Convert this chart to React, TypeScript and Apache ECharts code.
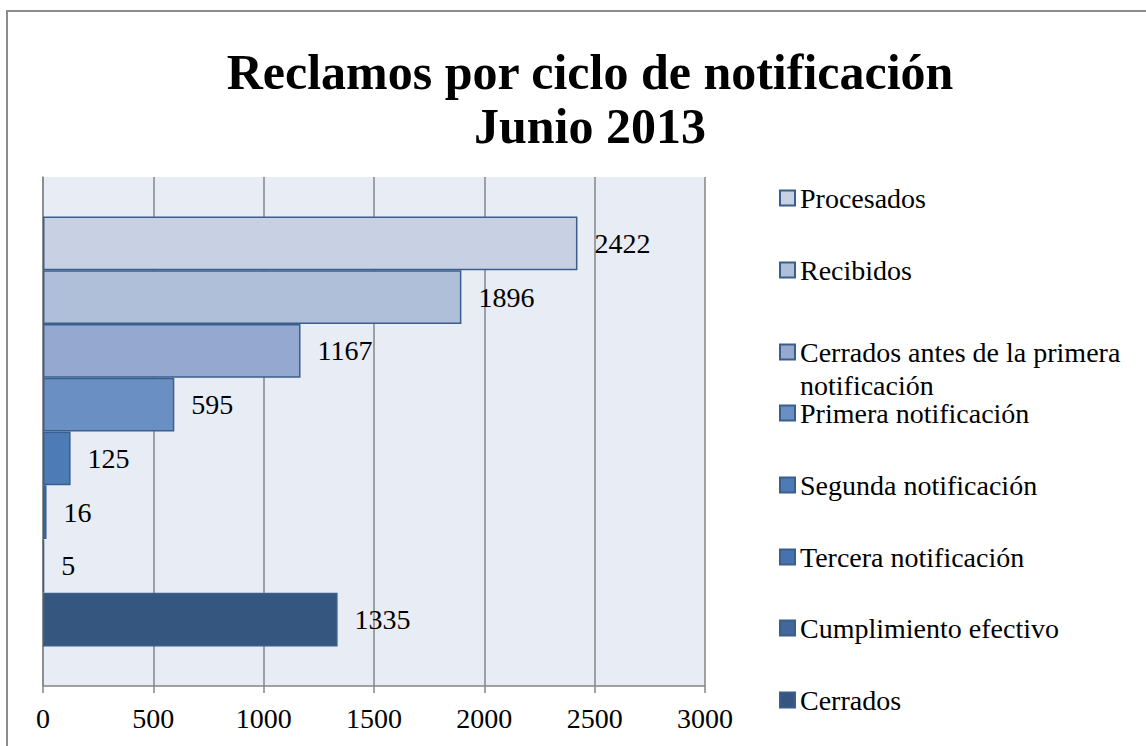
import React, { useEffect, useRef } from "react";
import * as echarts from "echarts";

const titleLines = ["Reclamos por ciclo de notificación", "Junio 2013"];
const seriesNames = [
  "Procesados",
  "Recibidos",
  "Cerrados antes de la primera notificación",
  "Primera notificación",
  "Segunda notificación",
  "Tercera notificación",
  "Cumplimiento efectivo",
  "Cerrados",
];
const seriesValues = [2422, 1896, 1167, 595, 125, 16, 5, 1335];
const seriesColors = [
  "#c8d0e3",
  "#afbfda",
  "#95a9d0",
  "#6a8fc3",
  "#4c7bb6",
  "#4673ae",
  "#41679d",
  "#35577f",
];
const legendCenters = [198, 270, 352, 413, 485, 557, 628, 700];
const category = ["Junio 2013"];
const xMin = 0;
const xMax = 3000;
const xStep = 500;

const FONT = '"Liberation Serif", "Times New Roman", serif';

export default function App() {
  const ref = useRef<HTMLDivElement>(null);
  useEffect(() => {
    if (!ref.current) return;
    const chart = echarts.init(ref.current, undefined, { renderer: "svg" });
    const legends = seriesNames.map((name, i) => {
      const multi = name.length > 30;
      return {
        data: [name],
        orient: "vertical",
        left: 779,
        top: multi ? legendCenters[i] - 16.5 : legendCenters[i] - 14,
        padding: 0,
        itemWidth: 15,
        itemHeight: multi ? 48 : 15,
        itemGap: 0,
        icon: multi ? "path://M0,0L15,0L15,15L0,15Z M0,48" : "rect",
        symbolKeepAspect: false,
        selectedMode: false,
        formatter: multi
          ? () => "Cerrados antes de la primera\nnotificación"
          : undefined,
        textStyle: {
          fontFamily: FONT,
          fontSize: 28,
          lineHeight: multi ? 33 : 28,
          color: "#000",
        },
      };
    });
    chart.setOption({
      animation: false,
      backgroundColor: "#ffffff",
      title: {
        text: titleLines.join("\n"),
        left: 585,
        top: 40,
        textAlign: "center",
        textStyle: {
          fontFamily: FONT,
          fontWeight: "bold",
          fontSize: 50,
          lineHeight: 54,
          color: "#000",
        },
      },
      graphic: [
        {
          type: "rect",
          z: -1,
          silent: true,
          shape: { x: 7, y: 11, width: 1300, height: 900 },
          style: { fill: "none", stroke: "#8c8c8c", lineWidth: 2 },
        },
      ],
      legend: legends,
      grid: {
        left: 43,
        right: 1146 - 705,
        top: 177,
        bottom: 746 - 686,
        show: true,
        backgroundColor: "#e8ecf4",
        borderWidth: 0,
      },
      xAxis: {
        type: "value",
        min: xMin,
        max: xMax,
        interval: xStep,
        axisLine: { show: true, lineStyle: { color: "#868686", width: 1.5 } },
        axisTick: { show: true, length: 7, lineStyle: { color: "#868686", width: 1.5 } },
        splitLine: { show: true, lineStyle: { color: "#868686", width: 1.5 } },
        axisLabel: {
          fontFamily: FONT,
          fontSize: 28,
          color: "#000",
          margin: 18,
          formatter: (v: number) => String(v),
        },
      },
      yAxis: {
        type: "category",
        data: category,
        inverse: true,
        axisLine: { show: true, lineStyle: { color: "#868686", width: 1.5 } },
        axisTick: { show: false },
        axisLabel: { show: false },
        splitLine: { show: false },
      },
      series: seriesNames.map((name, i) => ({
        type: "bar",
        name,
        data: [seriesValues[i]],
        barGap: "0%",
        barCategoryGap: "15.5%",
        itemStyle: {
          color: seriesColors[i],
          borderColor: "#3a5f8d",
          borderWidth: 1.5,
        },
        label: {
          show: true,
          position: "right",
          distance: 17,
          fontFamily: FONT,
          fontSize: 28,
          color: "#000",
        },
      })),
    });
    return () => chart.dispose();
  }, []);
  return (
    <div
      ref={ref}
      style={{ position: "fixed", left: 0, top: 0, width: 1146, height: 746 }}
    />
  );
}
